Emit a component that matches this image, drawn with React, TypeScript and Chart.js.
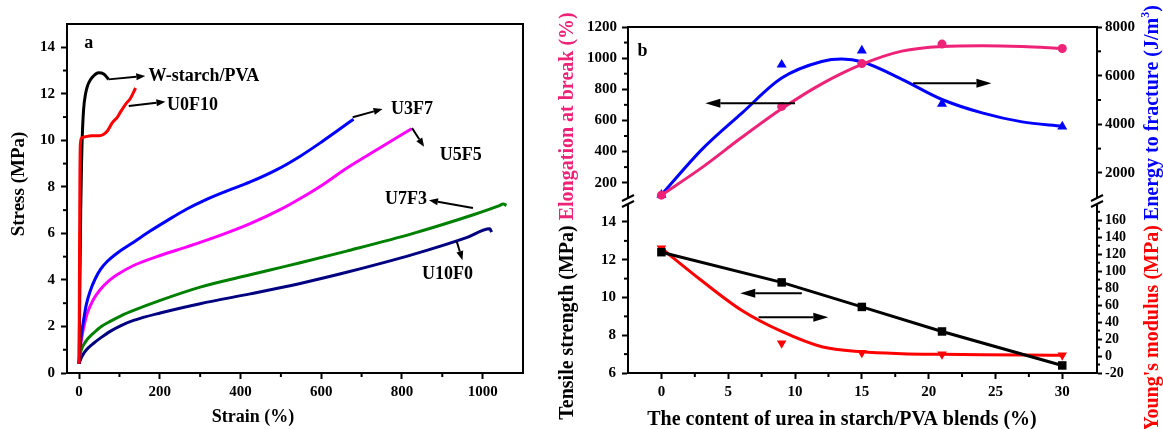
import React, { useEffect, useRef } from 'react';
import { Chart, registerables } from 'chart.js';

Chart.register(...registerables);

const FONT = "'Liberation Serif', 'Times New Roman', Times, serif";
const PAGE_W = 1163;
const PAGE_H = 429;

// ---------------- Panel (a): stress-strain curves ----------------
const strainTicks = [0, 200, 400, 600, 800, 1000];
const strainMinorTicks = [100, 300, 500, 700, 900];
const stressTicks = [0, 2, 4, 6, 8, 10, 12, 14];
const stressMinorTicks = [1, 3, 5, 7, 9, 11, 13];

const wStarchStrain = [0, 2, 4, 6, 7.5, 11, 16, 21, 28, 36, 48, 61, 73];
const wStarchStress = [0.4, 4, 7, 9, 10, 11.3, 12.0, 12.35, 12.6, 12.77, 12.9, 12.85, 12.62];

const u0f10Strain = [0, 1, 2, 3, 6, 15, 30, 50, 60, 70, 82, 95, 102, 115, 127, 140];
const u0f10Stress = [0.4, 5, 8.5, 9.8, 10.1, 10.15, 10.2, 10.2, 10.25, 10.4, 10.75, 11.0, 11.2, 11.55, 11.8, 12.25];

const u3f7Strain = [0, 2, 5, 10, 18, 28, 40, 53, 70, 94, 135, 176, 218, 267, 308, 360, 424, 490, 548, 600, 640, 680];
const u3f7Stress = [0.4, 1.0, 1.55, 2.15, 2.95, 3.55, 4.05, 4.45, 4.8, 5.15, 5.62, 6.1, 6.55, 7.05, 7.4, 7.78, 8.21, 8.74, 9.32, 9.92, 10.41, 10.91];

const u5f5Strain = [0, 2, 5, 10, 20, 35, 53, 75, 94, 135, 201, 267, 341, 424, 498, 548, 600, 663, 746, 824];
const u5f5Stress = [0.4, 0.9, 1.35, 1.85, 2.55, 3.15, 3.6, 3.98, 4.22, 4.62, 5.05, 5.42, 5.86, 6.42, 7.02, 7.5, 8.05, 8.8, 9.68, 10.5];

const u7f3Strain = [0, 1, 3, 6, 10, 15, 22, 36, 55, 77, 105, 135, 201, 300, 424, 498, 548, 663, 828, 977, 1040, 1051, 1059];
const u7f3Stress = [0.4, 0.6, 0.84, 1.02, 1.18, 1.32, 1.48, 1.72, 2.0, 2.22, 2.47, 2.69, 3.12, 3.69, 4.22, 4.53, 4.74, 5.24, 6.0, 6.8, 7.18, 7.26, 7.2];

const u10f0Strain = [0, 1, 3, 6, 10, 15, 22, 36, 55, 77, 105, 135, 201, 300, 424, 498, 548, 663, 828, 960, 1018, 1022];
const u10f0Stress = [0.4, 0.47, 0.55, 0.68, 0.8, 0.93, 1.07, 1.28, 1.53, 1.79, 2.05, 2.26, 2.58, 2.98, 3.4, 3.66, 3.85, 4.33, 5.1, 5.82, 6.2, 6.05];

// ---------------- Panel (b): properties vs urea content ----------------
const ureaContent = [0, 9, 15, 21, 30];
const elongationAtBreak = [120, 690, 965, 1090, 1062];
const energyToFracture = [1100, 6450, 7030, 4840, 3905];
const tensileStrength = [12.4, 10.8, 9.5, 8.2, 6.4];
const youngsModulus = [127, 15, 4, 2, 1];

const elongationFitUrea = [0, 3, 6, 9, 12, 15, 18, 21, 24, 27, 30];
const elongationFit = [120, 295, 490, 675, 835, 960, 1045, 1075, 1080, 1075, 1062];
const energyFitUrea = [0, 3, 6, 9, 12, 13.5, 15, 18, 21, 24, 27, 30];
const energyFit = [1100, 2950, 4450, 5900, 6580, 6680, 6570, 5850, 5020, 4470, 4100, 3925];
const modulusFitUrea = [0, 3, 6, 9, 12, 15, 18, 21, 24, 27, 30];
const modulusFit = [127, 89, 54, 29, 11, 5, 2.8, 2, 1.5, 1.2, 1];

const ureaTicks = [0, 5, 10, 15, 20, 25, 30];
const ureaMinorTicks = [2.5, 7.5, 12.5, 17.5, 22.5, 27.5];
const elongationTicks = [200, 400, 600, 800, 1000, 1200];
const elongationMinorTicks = [300, 500, 700, 900, 1100];
const energyTicks = [2000, 4000, 6000, 8000];
const energyMinorTicks = [3000, 5000, 7000];
const tensileTicks = [6, 8, 10, 12, 14];
const tensileMinorTicks = [7, 9, 11, 13];
const modulusTicks = [-20, 0, 20, 40, 60, 80, 100, 120, 140, 160];
const modulusMinorTicks = [-10, 10, 30, 50, 70, 90, 110, 130, 150, 170];

// ---------------- Colours ----------------
const C_BLACK = '#000000';
const C_RED = '#FF0000';
const C_BLUE = '#0000FF';
const C_MAGENTA = '#FF00FF';
const C_GREEN = '#008000';
const C_NAVY = '#000080';
const C_PINK = '#EE2277';

// ---------------- Layout (pixel frame of each plot area) ----------------
const A_AREA = { left: 67, right: 523, top: 24, bottom: 373 };
const B_LEFT = 628;
const B_RIGHT = 1097;
const B_TOP = 27;
const B_UPPER_BOTTOM = 197;
const B_LOWER_TOP = 205;
const B_BOTTOM = 373;

const toXY = (xs: number[], ys: number[]) => xs.map((x, i) => ({ x, y: ys[i] }));

function axis(tickValues: number[], fontSize = 15, padding = 6, tickLength = 6) {
  return {
    bounds: 'data',
    afterBuildTicks: (s: any) => {
      s.ticks = tickValues.map((v) => ({ value: v }));
    },
    grid: {
      display: true,
      drawOnChartArea: false,
      drawTicks: true,
      tickLength,
      tickWidth: 2,
      tickColor: '#000',
      color: '#000',
    },
    border: { display: true, color: '#000', width: 2 },
    ticks: {
      color: '#000',
      font: { family: FONT, size: fontSize, weight: 'bold' },
      padding,
      autoSkip: false,
      maxRotation: 0,
      callback: (v: any) => String(v),
    },
  };
}

function drawText(ctx: any, str: string, x: number, y: number, size: number, color = '#000', align = 'left') {
  ctx.font = `bold ${size}px ${FONT}`;
  ctx.fillStyle = color;
  ctx.textAlign = align;
  ctx.textBaseline = 'middle';
  ctx.fillText(str, x, y);
}

function drawArrow(ctx: any, x1: number, y1: number, x2: number, y2: number, head = 9, half = 3.5) {
  const ang = Math.atan2(y2 - y1, x2 - x1);
  const bx = x2 - head * Math.cos(ang);
  const by = y2 - head * Math.sin(ang);
  ctx.strokeStyle = '#000';
  ctx.lineWidth = 2;
  ctx.beginPath();
  ctx.moveTo(x1, y1);
  ctx.lineTo(bx, by);
  ctx.stroke();
  ctx.fillStyle = '#000';
  ctx.beginPath();
  ctx.moveTo(x2, y2);
  ctx.lineTo(bx - half * Math.sin(ang), by + half * Math.cos(ang));
  ctx.lineTo(bx + half * Math.sin(ang), by - half * Math.cos(ang));
  ctx.closePath();
  ctx.fill();
}

function drawMinorTicks(ctx: any, scale: any, values: number[], side: string, edge: number, len = 4) {
  ctx.strokeStyle = '#000';
  ctx.lineWidth = 2;
  values.forEach((v) => {
    const p = scale.getPixelForValue(v);
    ctx.beginPath();
    if (side === 'left') {
      ctx.moveTo(edge, p);
      ctx.lineTo(edge - len, p);
    } else if (side === 'right') {
      ctx.moveTo(edge, p);
      ctx.lineTo(edge + len, p);
    } else {
      ctx.moveTo(p, edge);
      ctx.lineTo(p, edge + len);
    }
    ctx.stroke();
  });
}

type Part = { text: string; color: string; sup?: boolean };
function drawRotatedParts(ctx: any, cx: number, cy: number, parts: Part[], size: number) {
  ctx.save();
  const widths = parts.map((p) => {
    ctx.font = `bold ${p.sup ? Math.round(size * 0.6) : size}px ${FONT}`;
    return ctx.measureText(p.text).width;
  });
  const total = widths.reduce((a, b) => a + b, 0);
  ctx.translate(cx, cy);
  ctx.rotate(-Math.PI / 2);
  ctx.textAlign = 'left';
  ctx.textBaseline = 'middle';
  let x = -total / 2;
  parts.forEach((p, i) => {
    ctx.font = `bold ${p.sup ? Math.round(size * 0.6) : size}px ${FONT}`;
    ctx.fillStyle = p.color;
    ctx.fillText(p.text, x, p.sup ? -size * 0.35 : 0);
    x += widths[i];
  });
  ctx.restore();
}

// ---------------- Annotations ----------------
const panelALabels = [
  { text: 'W-starch/PVA', at: [172, 12.77], align: 'left', from: [73, 12.62], to: [164, 12.77] },
  { text: 'U0F10', at: [218, 11.52], align: 'left', from: [123, 11.48], to: [214, 11.66] },
  { text: 'U3F7', at: [773, 11.35], align: 'left', from: [678, 10.99], to: [752, 11.35] },
  { text: 'U5F5', at: [894, 9.37], align: 'left', from: [825, 10.53], to: [855, 9.72] },
  { text: 'U7F3', at: [862, 7.47], align: 'right', from: [976, 7.09], to: [867, 7.43] },
  { text: 'U10F0', at: [913, 4.25], align: 'center', from: [936, 5.64], to: [950, 4.85] },
];

const panelAPlugin = {
  id: 'panelADecor',
  afterDraw(chart: any) {
    const { ctx, chartArea: ca, scales } = chart;
    const xs = scales.x;
    const ys = scales.y;
    ctx.save();
    ctx.strokeStyle = '#000';
    ctx.lineWidth = 2;
    ctx.strokeRect(ca.left, ca.top, ca.right - ca.left, ca.bottom - ca.top);
    drawMinorTicks(ctx, ys, stressMinorTicks, 'left', ca.left, 4);
    drawMinorTicks(ctx, xs, strainMinorTicks, 'bottom', ca.bottom, 4);
    drawText(ctx, 'a', xs.getPixelForValue(24), ys.getPixelForValue(14.15), 18, '#000', 'center');
    panelALabels.forEach((l) => {
      drawArrow(
        ctx,
        xs.getPixelForValue(l.from[0]),
        ys.getPixelForValue(l.from[1]),
        xs.getPixelForValue(l.to[0]),
        ys.getPixelForValue(l.to[1]),
        9,
        3.5
      );
      drawText(ctx, l.text, xs.getPixelForValue(l.at[0]), ys.getPixelForValue(l.at[1]), 18, '#000', l.align);
    });
    drawRotatedParts(ctx, 19, 184, [{ text: 'Stress (MPa)', color: '#000' }], 19);
    drawText(ctx, 'Strain (%)', 253, 417, 18, '#000', 'center');
    ctx.restore();
  },
};

const panelBUpperPlugin = {
  id: 'panelBUpperDecor',
  afterDraw(chart: any) {
    const { ctx, chartArea: ca, scales } = chart;
    const xs = scales.x;
    const yl = scales.yL;
    ctx.save();
    ctx.strokeStyle = '#000';
    ctx.lineWidth = 2;
    ctx.beginPath();
    ctx.moveTo(ca.left, ca.top);
    ctx.lineTo(ca.right, ca.top);
    ctx.stroke();
    drawMinorTicks(ctx, yl, elongationMinorTicks, 'left', ca.left, 4);
    drawMinorTicks(ctx, scales.yR, energyMinorTicks, 'right', ca.right, 4);
    drawText(ctx, 'b', xs.getPixelForValue(-1.42), yl.getPixelForValue(1042), 18, '#000', 'center');
    drawArrow(ctx, xs.getPixelForValue(10.0), yl.getPixelForValue(711), xs.getPixelForValue(3.29), yl.getPixelForValue(711), 15, 4.5);
    drawArrow(ctx, xs.getPixelForValue(18.84), yl.getPixelForValue(839), xs.getPixelForValue(24.7), yl.getPixelForValue(839), 15, 4.5);
    ctx.restore();
  },
};

const panelBLowerPlugin = {
  id: 'panelBLowerDecor',
  afterDraw(chart: any) {
    const { ctx, chartArea: ca, scales } = chart;
    const xs = scales.x;
    const yl = scales.yL;
    ctx.save();
    drawMinorTicks(ctx, yl, tensileMinorTicks, 'left', ca.left, 4);
    drawMinorTicks(ctx, scales.yR, modulusMinorTicks, 'right', ca.right, 3);
    drawMinorTicks(ctx, xs, ureaMinorTicks, 'bottom', ca.bottom, 4);
    drawArrow(ctx, xs.getPixelForValue(10.51), yl.getPixelForValue(10.23), xs.getPixelForValue(5.9), yl.getPixelForValue(10.23), 15, 4.5);
    drawArrow(ctx, xs.getPixelForValue(7.27), yl.getPixelForValue(8.95), xs.getPixelForValue(12.49), yl.getPixelForValue(8.95), 15, 4.5);
    // axis break marks
    const midY = (B_UPPER_BOTTOM + B_LOWER_TOP) / 2;
    ctx.strokeStyle = '#000';
    ctx.lineWidth = 2;
    [ca.left, ca.right].forEach((x) => {
      [-3, 3].forEach((dy) => {
        ctx.beginPath();
        ctx.moveTo(x - 6, midY + dy + 3);
        ctx.lineTo(x + 6, midY + dy - 3);
        ctx.stroke();
      });
    });
    drawText(ctx, 'The content of urea in starch/PVA blends (%)', 842, 420, 20, '#000', 'center');
    drawRotatedParts(
      ctx,
      568,
      216,
      [
        { text: 'Tensile strength (MPa) ', color: C_BLACK },
        { text: 'Elongation at break (%)', color: C_PINK },
      ],
      20
    );
    drawRotatedParts(
      ctx,
      1153,
      218,
      [
        { text: "Young's modulus (MPa) ", color: C_RED },
        { text: 'Energy to fracture (J/m', color: C_BLUE },
        { text: '3', color: C_BLUE, sup: true },
        { text: ')', color: C_BLUE },
      ],
      20
    );
    ctx.restore();
  },
};

const commonOptions = {
  responsive: false,
  animation: false,
  events: [],
  plugins: { legend: { display: false }, tooltip: { enabled: false } },
};

function curve(label: string, xs: number[], ys: number[], color: string, width = 3) {
  return {
    label,
    data: toXY(xs, ys),
    borderColor: color,
    backgroundColor: color,
    borderWidth: width,
    pointRadius: 0,
    cubicInterpolationMode: 'monotone',
    fill: false,
    clip: false,
  };
}

function markers(label: string, xs: number[], ys: number[], color: string, style: string, radius: number, rotation = 0) {
  return {
    label,
    data: toXY(xs, ys),
    showLine: false,
    borderColor: color,
    backgroundColor: color,
    pointStyle: style,
    pointRadius: radius,
    pointRotation: rotation,
    pointBorderWidth: 0,
    clip: false,
  };
}

function panelAConfig(): any {
  return {
    type: 'line',
    data: {
      datasets: [
        curve('U0F10', u0f10Strain, u0f10Stress, C_RED),
        curve('W-starch/PVA', wStarchStrain, wStarchStress, C_BLACK),
        curve('U3F7', u3f7Strain, u3f7Stress, C_BLUE),
        curve('U5F5', u5f5Strain, u5f5Stress, C_MAGENTA),
        curve('U7F3', u7f3Strain, u7f3Stress, C_GREEN),
        curve('U10F0', u10f0Strain, u10f0Stress, C_NAVY),
      ],
    },
    options: {
      ...commonOptions,
      layout: { padding: { left: 0, top: A_AREA.top, right: PAGE_W - A_AREA.right, bottom: 0 } },
      scales: {
        x: {
          type: 'linear',
          position: 'bottom',
          min: -30,
          max: 1100,
          ...axis(strainTicks, 15, 4, 6),
          afterFit: (s: any) => {
            s.height = PAGE_H - A_AREA.bottom;
          },
        },
        y: {
          type: 'linear',
          position: 'left',
          min: 0,
          max: 15,
          ...axis(stressTicks, 15, 6, 6),
          afterFit: (s: any) => {
            s.width = A_AREA.left;
          },
        },
      },
    },
    plugins: [panelAPlugin],
  };
}

function panelBUpperConfig(): any {
  return {
    type: 'line',
    data: {
      datasets: [
        { ...markers('Elongation at break', ureaContent, elongationAtBreak, C_PINK, 'circle', 4.5), yAxisID: 'yL' },
        { ...markers('Energy to fracture', ureaContent, energyToFracture, C_BLUE, 'triangle', 5.8), yAxisID: 'yR' },
        { ...curve('Elongation fit', elongationFitUrea, elongationFit, C_PINK, 3), yAxisID: 'yL' },
        { ...curve('Energy fit', energyFitUrea, energyFit, C_BLUE, 3), yAxisID: 'yR' },
      ],
    },
    options: {
      ...commonOptions,
      layout: { padding: { left: 540, top: B_TOP, right: 0, bottom: PAGE_H - B_UPPER_BOTTOM } },
      scales: {
        x: { type: 'linear', min: -2.5, max: 32.6, display: false },
        yL: {
          type: 'linear',
          position: 'left',
          min: 108,
          max: 1200,
          ...axis(elongationTicks, 15, 5, 6),
          afterFit: (s: any) => {
            s.width = B_LEFT - 540;
          },
        },
        yR: {
          type: 'linear',
          position: 'right',
          min: 1012,
          max: 8000,
          ...axis(energyTicks, 15, 3, 5),
          afterFit: (s: any) => {
            s.width = PAGE_W - B_RIGHT;
          },
        },
      },
    },
    plugins: [panelBUpperPlugin],
  };
}

function panelBLowerConfig(): any {
  return {
    type: 'line',
    data: {
      datasets: [
        {
          ...markers('Tensile strength', ureaContent, tensileStrength, C_BLACK, 'rect', 6),
          showLine: true,
          borderWidth: 3,
          tension: 0,
          yAxisID: 'yL',
        },
        { ...markers("Young's modulus", ureaContent, youngsModulus, C_RED, 'triangle', 5.5, 180), yAxisID: 'yR' },
        { ...curve('Modulus fit', modulusFitUrea, modulusFit, C_RED, 3), yAxisID: 'yR' },
      ],
    },
    options: {
      ...commonOptions,
      layout: { padding: { left: 540, top: B_LOWER_TOP, right: 0, bottom: 0 } },
      scales: {
        x: {
          type: 'linear',
          position: 'bottom',
          min: -2.5,
          max: 32.6,
          ...axis(ureaTicks, 15, 4, 6),
          afterFit: (s: any) => {
            s.height = PAGE_H - B_BOTTOM;
          },
        },
        yL: {
          type: 'linear',
          position: 'left',
          min: 6,
          max: 14.9,
          ...axis(tensileTicks, 15, 6, 6),
          afterFit: (s: any) => {
            s.width = B_LEFT - 540;
          },
        },
        yR: {
          type: 'linear',
          position: 'right',
          min: -20,
          max: 178,
          ...axis(modulusTicks, 14, 3, 5),
          afterFit: (s: any) => {
            s.width = PAGE_W - B_RIGHT;
          },
        },
      },
    },
    plugins: [panelBLowerPlugin],
  };
}

export default function App() {
  const aRef = useRef<HTMLCanvasElement>(null);
  const bUpperRef = useRef<HTMLCanvasElement>(null);
  const bLowerRef = useRef<HTMLCanvasElement>(null);

  useEffect(() => {
    const charts = [
      new Chart(aRef.current as HTMLCanvasElement, panelAConfig()),
      new Chart(bUpperRef.current as HTMLCanvasElement, panelBUpperConfig()),
      new Chart(bLowerRef.current as HTMLCanvasElement, panelBLowerConfig()),
    ];
    return () => charts.forEach((c) => c.destroy());
  }, []);

  const canvasStyle: any = { position: 'absolute', left: 0, top: 0, width: PAGE_W, height: PAGE_H };
  return (
    <div style={{ position: 'absolute', left: 0, top: 0, width: PAGE_W, height: PAGE_H, background: '#fff', overflow: 'hidden' }}>
      <canvas ref={aRef} width={PAGE_W} height={PAGE_H} style={canvasStyle} />
      <canvas ref={bUpperRef} width={PAGE_W} height={PAGE_H} style={canvasStyle} />
      <canvas ref={bLowerRef} width={PAGE_W} height={PAGE_H} style={canvasStyle} />
    </div>
  );
}
